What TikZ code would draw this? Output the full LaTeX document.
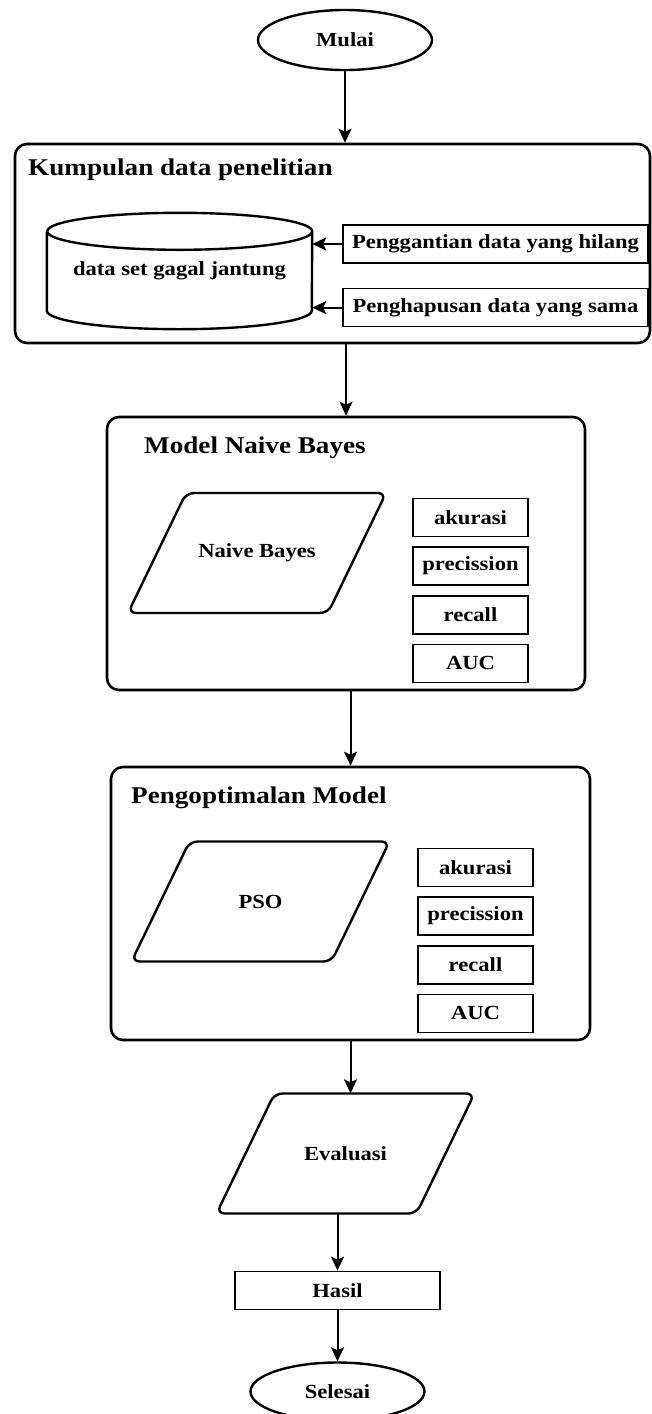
\documentclass[tikz,border=0pt]{standalone}
\usepackage{fontspec}
\setmainfont{Liberation Serif}[FakeStretch=1.13]
\usetikzlibrary{arrows.meta, positioning, shapes.geometric}

% slanted input/output frame round a named node
\newcommand{\ioframe}[1]{%
  \draw[ioline] ([shift={(-129,-60)}]#1.center) -- ++(200,0) -- ++(58,120)
    -- ++(-200,0) -- cycle;}
% database cylinder round a named node
\newcommand{\dbframe}[1]{%
  \draw[ioline, rounded corners=0pt] ([yshift=-18.5pt]#1.north west)
    -- ([yshift=18.5pt]#1.south west)
    arc[start angle=180, end angle=360, x radius=132.5pt, y radius=18.5pt]
    -- ([yshift=-18.5pt]#1.north east)
    arc[start angle=0, end angle=180, x radius=132.5pt, y radius=18.5pt]
    arc[start angle=180, end angle=360, x radius=132.5pt, y radius=18.5pt];}

\begin{document}
\begin{tikzpicture}[
    x=1pt, y=1pt,
    txt/.style={font=\fontsize{20}{24}\selectfont\bfseries},
    ttl/.style={font=\fontsize{24}{28}\selectfont\bfseries, anchor=base west},
    terminal/.style={txt, ellipse, draw, line width=2.4pt,
                     minimum width=174pt, minimum height=60pt},
    group/.style={rectangle, rounded corners=12pt, draw, line width=2.6pt},
    io/.style={txt, minimum width=258pt, minimum height=120pt},
    ioline/.style={line width=2.4pt, rounded corners=8pt},
    box/.style={txt, rectangle, draw, line width=1.6pt, minimum height=38pt},
    metric/.style={box, minimum width=115pt},
    arr/.style={-{Stealth[length=14pt, width=13pt, inset=3pt]}, line width=2pt},
    node distance=9pt
]
\useasboundingbox (0,0) rectangle (651,-1414);

% Start
\node[terminal] (mulai) at (345,-40) {Mulai};

% Kumpulan data
\node[group, minimum width=635pt, minimum height=199pt] (kumpulan) at (332.5,-243.5) {};
\node[ttl] at ([xshift=11pt, yshift=-33pt]kumpulan.north west) {Kumpulan data penelitian};
\node[txt, minimum width=265pt, minimum height=116pt] (dataset) at (179.5,-271)
    {data set gagal jantung};
\dbframe{dataset}
\node[box, minimum width=305pt] (ganti) at (495.5,-244) {Penggantian data yang hilang};
\node[box, minimum width=305pt, below=24pt of ganti] (hapus) {Penghapusan data yang sama};

% Model Naive Bayes
\node[group, minimum width=478pt, minimum height=273pt] (modelnb) at (346,-553.5) {};
\node[ttl] at ([xshift=35pt, yshift=-38pt]modelnb.north west) {Model Naive Bayes};
\node[io] (nb) at (257,-553) {Naive Bayes};
\ioframe{nb}
\node[metric] (nbAkurasi) at (470.5,-517.5) {akurasi};
\node[metric, below=of nbAkurasi] (nbPrecission) {precission};
\node[metric, below=of nbPrecission] (nbRecall) {recall};
\node[metric, below=of nbRecall] (nbAUC) {AUC};

% Pengoptimalan Model
\node[group, minimum width=479pt, minimum height=273pt] (optim) at (350.5,-903.5) {};
\node[ttl] at ([xshift=18pt, yshift=-38pt]optim.north west) {Pengoptimalan Model};
\node[io] (pso) at (260.5,-901.5) {PSO};
\ioframe{pso}
\node[metric] (psoAkurasi) at (475.5,-867.5) {akurasi};
\node[metric, below=of psoAkurasi] (psoPrecission) {precission};
\node[metric, below=of psoPrecission] (psoRecall) {recall};
\node[metric, below=of psoRecall] (psoAUC) {AUC};

% End of flow
\node[io, below=52pt of optim, xshift=-5pt] (evaluasi) {Evaluasi};
\ioframe{evaluasi}
\node[box, minimum width=205pt, below=57pt of evaluasi, xshift=-8pt] (hasil) {Hasil};
\node[terminal, below=51pt of hasil, minimum height=58pt] (selesai) {Selesai};

% Arrows
\draw[arr] (mulai) -- (mulai |- kumpulan.north);
\draw[arr] (ganti.west) -- (ganti.west -| dataset.east);
\draw[arr] (hapus.west) -- (hapus.west -| dataset.east);
\draw[arr] (modelnb.north |- kumpulan.south) -- (modelnb.north);
\draw[arr] (optim.north |- modelnb.south) -- (optim.north);
\draw[arr] (optim.south) -- (optim.south |- evaluasi.north);
\draw[arr] (hasil.north |- evaluasi.south) -- (hasil.north);
\draw[arr] (hasil) -- (selesai);

\end{tikzpicture}
\end{document}
